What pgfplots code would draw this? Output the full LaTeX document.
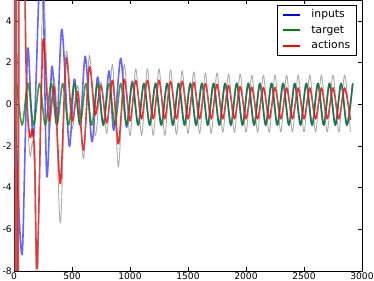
\documentclass[border=0pt]{standalone}
\usepackage{pgfplots}
\pgfplotsset{compat=1.18}
\usepackage{fontspec}
\setmainfont{DejaVu Sans}
\definecolor{mplgreen}{RGB}{0,128,0}
\begin{document}
\begin{tikzpicture}
\begin{axis}[
  at={(0,0)}, anchor=south west,
  scale only axis, width=348bp, height=271bp,
  xmin=0, xmax=3000, ymin=-8, ymax=5,
  xtick={0,500,...,3000}, ytick={-8,-6,...,4},
  tick align=inside, major tick length=4bp,
  axis line style={line width=0.8bp},
  every tick/.style={line width=0.6bp, black},
  /pgf/number format/assume math mode=true,
  /pgf/number format/1000 sep={},
  ticklabel style={font=\fontsize{9.2}{11}\selectfont, inner sep=2bp},
  legend style={at={(0.9856,0.9815)}, anchor=north east, draw=black, line width=0.6bp,
    font=\fontsize{10.8}{12}\selectfont, inner xsep=5.5bp, inner ysep=3.25bp, row sep=3bp,
    column sep=9bp,
    nodes={inner sep=1bp, text height=8bp, text depth=2.5bp}},
  legend cell align=left,
  legend image post style={opacity=1, line width=2bp},
  every axis plot/.append style={smooth, line join=round},
]
\addplot[blue, opacity=0.6, line width=1.6bp] coordinates {
(0,0)(20,-2)(45,-5.5)(72,-7.1)(98,-1.5)(121,2.7)(170,-1.5)(238,8)(282,-3.4)(326,1.8)(370,-1.0)(413,3.6)(476,-2.0)(520,1.2)(570,-1.0)(615,2.3)(672,-1.8)(720,1.3)(770,-1.0)(820,1.6)(860,-1.25)(920,2.2)(970,-1.1)(1020,1.1)(1070,-1.0)
(1120,1)(1170,-1)(1220,1)(1270,-1)(1320,1)(1370,-1)(1420,1)(1470,-1)(1520,1)(1570,-1)(1620,1)(1670,-1)(1720,1)(1770,-1)(1820,1)(1870,-1)(1920,1)(1970,-1)
(2020,1)(2070,-1)(2120,1)(2170,-1)(2220,1)(2270,-1)(2320,1)(2370,-1)(2420,1)(2470,-1)(2520,1)(2570,-1)(2620,1)(2670,-1)(2720,1)(2770,-1)(2820,1)(2870,-1)(2920,1)
};
\addlegendentry{inputs}
\addplot[mplgreen, opacity=0.75, line width=1.6bp] coordinates {
(0,0.3)(20,1)(70,-1)(120,1)(170,-1)(220,1)(270,-1)(320,1)(370,-1)(420,1)(470,-1)(520,1)(570,-1)(620,1)(670,-1)(720,1)(770,-1)(820,1)(870,-1)(920,1)(970,-1)
(1020,1)(1070,-1)(1120,1)(1170,-1)(1220,1)(1270,-1)(1320,1)(1370,-1)(1420,1)(1470,-1)(1520,1)(1570,-1)(1620,1)(1670,-1)(1720,1)(1770,-1)(1820,1)(1870,-1)(1920,1)(1970,-1)
(2020,1)(2070,-1)(2120,1)(2170,-1)(2220,1)(2270,-1)(2320,1)(2370,-1)(2420,1)(2470,-1)(2520,1)(2570,-1)(2620,1)(2670,-1)(2720,1)(2770,-1)(2820,1)(2870,-1)(2920,1)
};
\addlegendentry{target}
\addplot[red, opacity=0.85, line width=1.6bp] coordinates {
(0,0)(6,16)(12,-16)(18,16)(26,-16)(36,-10)(48,14)(70,12)(88,9)(100,3)(118,-0.5)(140,-1.6)(160,-1.2)(178,-2.5)(200,-7.8)(250,3.0)(300,-0.8)(350,0.8)(400,-3.8)(450,2.2)(500,-0.8)(550,0.6)(600,-2.2)(650,1.8)(700,-0.5)(750,0.9)(800,-0.9)(850,1.15)(900,-1.9)(950,1.2)
(1000,-0.8)(1050,1.15)(1100,-0.7)(1150,1.15)(1200,-0.7)(1250,1.15)(1300,-0.7)(1350,1.1)(1400,-0.7)(1450,1.1)(1500,-0.7)(1550,1.05)(1600,-0.7)(1650,1.0)(1700,-0.7)(1750,0.95)(1800,-0.7)(1850,0.9)(1900,-0.7)(1950,0.85)
(2000,-0.7)(2050,0.82)(2100,-0.7)(2150,0.8)(2200,-0.7)(2250,0.8)(2300,-0.7)(2350,0.78)(2400,-0.7)(2450,0.78)(2500,-0.7)(2550,0.78)(2600,-0.7)(2650,0.78)(2700,-0.7)(2750,0.78)(2800,-0.7)(2850,0.78)(2900,-0.75)
};
\addlegendentry{actions}
\addplot[gray, opacity=0.65, line width=0.9bp, forget plot] coordinates {
(0,0)(5,20)(11,-20)(17,20)(24,-20)(34,-16)(46,20)(68,16)(86,12)(100,4)(120,-1)(140,-2.5)(160,-1.8)(178,-3.5)(200,-9.5)(250,5.5)(300,-1.3)(350,1.2)(400,-5.7)(450,2.5)(500,-1.2)(550,0.9)(600,-2.6)(650,2.35)(700,-1.5)(750,1.05)(800,-1.4)(850,1.9)(900,-3.0)(950,1.9)
(1000,-1.5)(1050,1.7)(1100,-1.5)(1150,1.7)(1200,-1.5)(1250,1.7)(1300,-1.5)(1350,1.65)(1400,-1.45)(1450,1.6)(1500,-1.4)(1550,1.55)(1600,-1.4)(1650,1.5)(1700,-1.4)(1750,1.5)(1800,-1.35)(1850,1.45)(1900,-1.35)(1950,1.45)
(2000,-1.35)(2050,1.4)(2100,-1.35)(2150,1.4)(2200,-1.35)(2250,1.4)(2300,-1.33)(2350,1.4)(2400,-1.33)(2450,1.4)(2500,-1.33)(2550,1.4)(2600,-1.33)(2650,1.4)(2700,-1.33)(2750,1.4)(2800,-1.33)(2850,1.4)(2900,-1.33)
};
\end{axis}
\pgfresetboundingbox
\path (-14bp,-10bp) rectangle (360bp,271bp);
\end{tikzpicture}
\end{document}
